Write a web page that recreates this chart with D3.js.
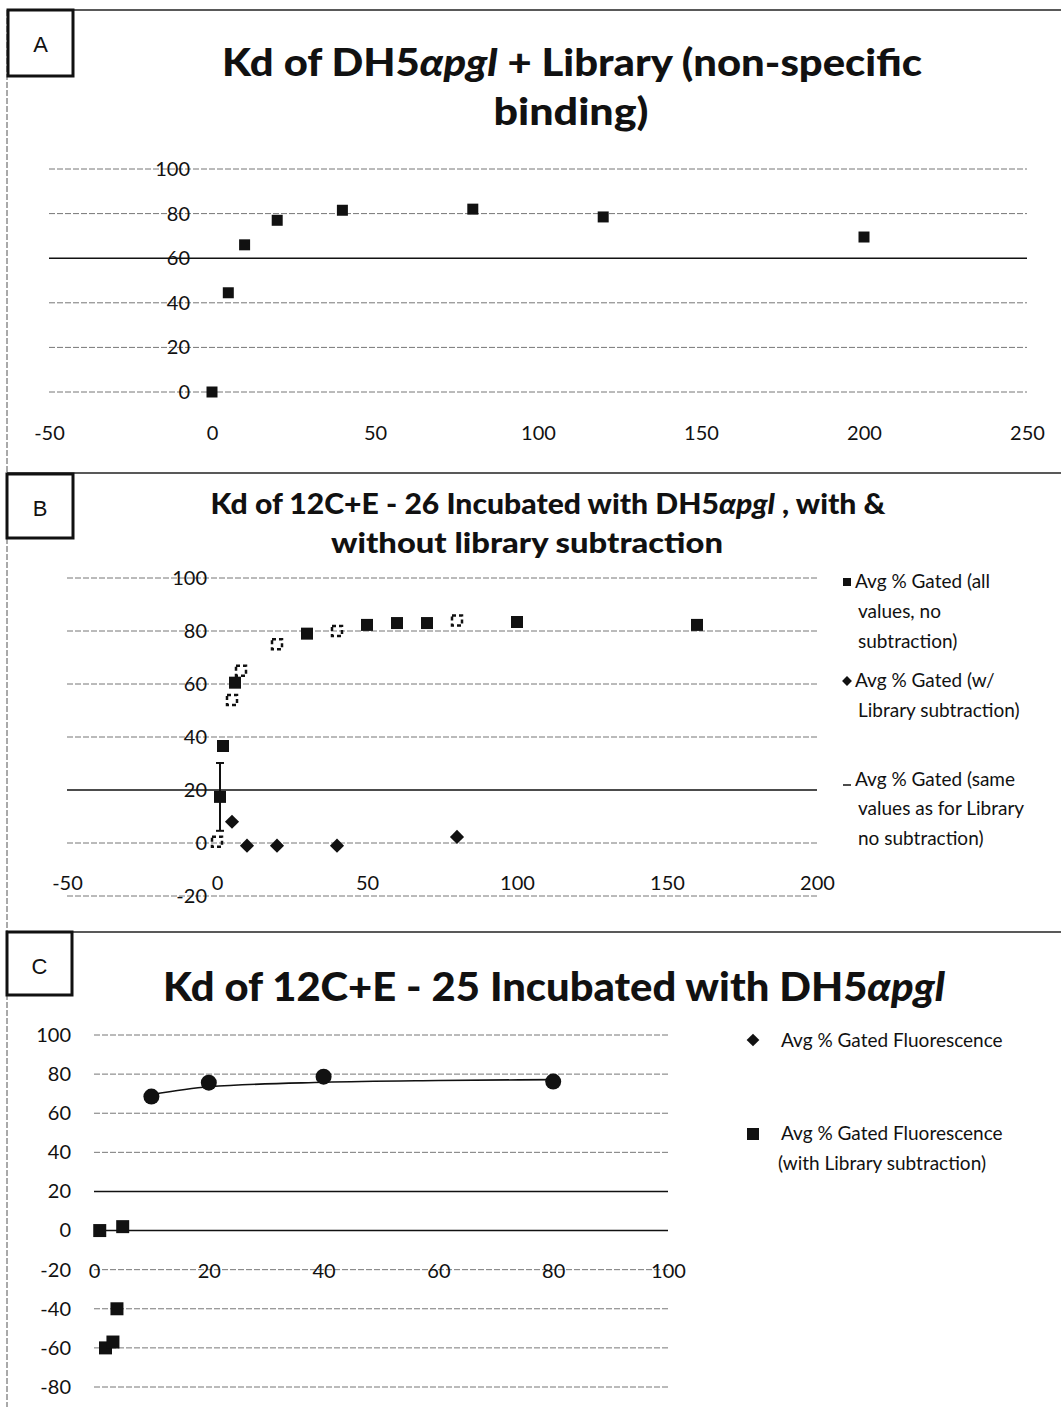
<!DOCTYPE html>
<html>
<head>
<meta charset="utf-8">
<script src="https://cdn.jsdelivr.net/npm/d3@7"></script>
<style>
  body { margin: 0; background: #fff; }
  svg text { font-family: Lato, "Open Sans", sans-serif; fill: #111; }
</style>
</head>
<body>
<script>
// panel A: DH5a pgl + library
const aConc = [0, 5, 10, 20, 40, 80, 120, 200];
const aGated = [0, 44.5, 66, 77, 81.5, 82, 78.5, 69.5];

// panel B: 12C+E - 26
const bAllConc = [1, 2, 6, 30, 50, 60, 70, 100, 160];
const bAllGated = [17.4, 36.6, 60.5, 79, 82.3, 83, 83, 83.4, 82.3];
const bAllErr = [12.8, 0, 0, 0, 0, 0, 0, 0, 0];
const bSubConc = [5, 10, 20, 40, 80];
const bSubGated = [8, -1, -1, -1, 2.3];
const bSameConc = [0, 5, 8, 20, 40, 80];
const bSameGated = [0.5, 54, 65, 75, 80, 84];

// panel C: 12C+E - 25
const cConc = [10, 20, 40, 80];
const cGated = [68.5, 75.6, 78.7, 76.2];
const cFitConc = [10, 20, 40, 60, 80];
const cFitGated = [69.5, 73.5, 75.8, 76.7, 77.2];
const cSubConc = [1, 5, 4, 2, 3.3];
const cSubGated = [0, 2, -40, -60, -57];

const aXTicks = [-50, 0, 50, 100, 150, 200, 250];
const aYTicks = [0, 20, 40, 60, 80, 100];
const bXTicks = [-50, 0, 50, 100, 150, 200];
const bYTicks = [-20, 0, 20, 40, 60, 80, 100];
const cXTicks = [0, 20, 40, 60, 80, 100];
const cYTicks = [-80, -60, -40, -20, 0, 20, 40, 60, 80, 100];

const W = 1061, H = 1407;
const svg = d3.select('body').append('svg').attr('width', W).attr('height', H);

// frame lines
svg.append('line').attr('x1', 8).attr('x2', W).attr('y1', 10).attr('y2', 10)
  .attr('stroke', '#222').attr('stroke-width', 1.5);
svg.append('line').attr('x1', 7).attr('x2', 7).attr('y1', 10).attr('y2', H)
  .attr('stroke', '#555').attr('stroke-dasharray', '6,2');
[473, 932].forEach((yy) => {
  svg.append('line').attr('x1', 7).attr('x2', W).attr('y1', yy).attr('y2', yy)
    .attr('stroke', '#222').attr('stroke-width', 1.5);
});

function letterBox(x, y, w, h, letter) {
  svg.append('rect').attr('x', x).attr('y', y).attr('width', w).attr('height', h)
    .attr('fill', '#fff').attr('stroke', '#111').attr('stroke-width', 3);
  svg.append('text').attr('x', x + w / 2).attr('y', y + 42).attr('text-anchor', 'middle')
    .style('font-family', '"Liberation Sans", Arial, sans-serif')
    .attr('font-size', 22).text(letter);
}
letterBox(8, 10, 65, 66, 'A');
letterBox(7, 474, 66, 64, 'B');
letterBox(7, 932, 65, 63, 'C');

// title line with italic "αpgl"
function titleLine(x, y, size, len, parts) {
  const t = svg.append('text').attr('x', x).attr('y', y).attr('text-anchor', 'middle')
    .attr('font-size', size).attr('font-weight', 900);
  parts.forEach((p) => {
    t.append('tspan').attr('font-style', p[1] ? 'italic' : null).text(p[0]);
  });
  if (len) t.attr('textLength', len).attr('lengthAdjust', 'spacingAndGlyphs');
}
titleLine(572, 76, 38, 700, [['Kd of DH5', false], ['αpgl', true], ['  + Library (non-specific', false]]);
titleLine(571, 125, 38, 155, [['binding)', false]]);
titleLine(548, 514, 29, 675, [['Kd of 12C+E - 26 Incubated with DH5', false], ['αpgl', true], [' , with &', false]]);
titleLine(527, 553, 29, 392, [['without library subtraction', false]]);
titleLine(554, 1001, 40, 782, [['Kd of 12C+E - 25 Incubated with DH5', false], ['αpgl', true]]);

function panel(o) {
  const x = d3.scaleLinear().domain(o.xDomain).range(o.xRange);
  const y = d3.scaleLinear().domain(o.yDomain).range(o.yRange);
  const g = svg.append('g');

  g.selectAll('line.grid').data(o.yTicks).join('line')
    .attr('class', 'grid')
    .attr('x1', x(o.xDomain[0])).attr('x2', x(o.xDomain[1]))
    .attr('y1', (d) => y(d)).attr('y2', (d) => y(d))
    .attr('stroke', (d) => (o.dark.includes(d) ? '#111' : '#777'))
    .attr('stroke-width', (d) => (o.dark.includes(d) ? 1.6 : 1))
    .attr('stroke-dasharray', (d) => (o.dark.includes(d) ? null : '6,2'));

  // plain hyphen minus, as in the original
  const fmt = (d) => String(d);

  g.append('g').attr('transform', `translate(${x(0)},0)`)
    .call(d3.axisLeft(y).tickValues(o.yTicks).tickFormat(fmt).tickSize(0).tickPadding(o.yPad))
    .call((a) => a.select('.domain').remove())
    .selectAll('text').attr('font-size', o.fs);

  g.append('g').attr('transform', `translate(0,${y(0)})`)
    .call(d3.axisBottom(x).tickValues(o.xTicks).tickFormat(fmt).tickSize(0).tickPadding(o.xPad))
    .call((a) => a.select('.domain').remove())
    .selectAll('text').attr('font-size', o.fs);

  return { x, y, g };
}

const sq = (s) => d3.symbol().type(d3.symbolSquare).size(s * s)();

// ---- panel A
const pA = panel({
  xDomain: [-50, 250], xRange: [49, 1027],
  yDomain: [0, 100], yRange: [392, 169],
  xTicks: aXTicks, yTicks: aYTicks, dark: [60],
  yPad: 22, xPad: 34, fs: 20,
});
pA.g.selectAll('path.a').data(aConc).join('path')
  .attr('d', sq(11)).attr('fill', '#111')
  .attr('transform', (d, i) => `translate(${pA.x(d)},${pA.y(aGated[i])})`);

// ---- panel B
const pB = panel({
  xDomain: [-50, 200], xRange: [67, 817],
  yDomain: [-20, 100], yRange: [896, 578],
  xTicks: bXTicks, yTicks: bYTicks, dark: [20],
  yPad: 10, xPad: 33, fs: 20,
});
// error bars
bAllConc.forEach((c, i) => {
  if (!bAllErr[i]) return;
  const xx = pB.x(c), y1 = pB.y(bAllGated[i] - bAllErr[i]), y2 = pB.y(bAllGated[i] + bAllErr[i]);
  pB.g.append('line').attr('x1', xx).attr('x2', xx).attr('y1', y1).attr('y2', y2)
    .attr('stroke', '#111').attr('stroke-width', 2);
  [y1, y2].forEach((yy) => pB.g.append('line').attr('x1', xx - 4).attr('x2', xx + 4)
    .attr('y1', yy).attr('y2', yy).attr('stroke', '#111').attr('stroke-width', 2));
});
pB.g.selectAll('path.same').data(bSameConc).join('path')
  .attr('d', sq(10)).attr('fill', 'none').attr('stroke', '#111').attr('stroke-width', 2.5)
  .attr('stroke-dasharray', '4,3')
  .attr('transform', (d, i) => `translate(${pB.x(d)},${pB.y(bSameGated[i])})`);
pB.g.selectAll('path.all').data(bAllConc).join('path')
  .attr('d', sq(12)).attr('fill', '#111')
  .attr('transform', (d, i) => `translate(${pB.x(d)},${pB.y(bAllGated[i])})`);
pB.g.selectAll('path.sub').data(bSubConc).join('path')
  .attr('d', sq(10)).attr('fill', '#111')
  .attr('transform', (d, i) => `translate(${pB.x(d)},${pB.y(bSubGated[i])}) rotate(45)`);

// legend B
const legB = svg.append('g').attr('font-size', 19);
const legBLines = [
  [588, 'Avg % Gated (all'], [618, 'values, no'], [648, 'subtraction)'],
  [687, 'Avg % Gated (w/'], [717, 'Library subtraction)'],
  [786, 'Avg % Gated (same'], [815, 'values as for Library'], [845, 'no subtraction)'],
];
legB.selectAll('text').data(legBLines).join('text')
  .attr('x', (d, i) => (i === 0 || i === 3 || i === 5 ? 855 : 858))
  .attr('y', (d) => d[0]).text((d) => d[1]);
legB.append('path').attr('d', sq(8)).attr('fill', '#111').attr('transform', 'translate(847,582)');
legB.append('path').attr('d', sq(7)).attr('fill', '#111').attr('transform', 'translate(847,681) rotate(45)');
legB.append('line').attr('x1', 843).attr('x2', 851).attr('y1', 785).attr('y2', 785)
  .attr('stroke', '#111').attr('stroke-width', 1.5);

// ---- panel C
const pC = panel({
  xDomain: [0, 100], xRange: [94, 668],
  yDomain: [-80, 100], yRange: [1387, 1035],
  xTicks: cXTicks, yTicks: cYTicks, dark: [20, 0],
  yPad: 23, xPad: 33, fs: 20,
});
pC.g.append('path')
  .datum(cFitConc.map((c, i) => [c, cFitGated[i]]))
  .attr('fill', 'none').attr('stroke', '#111').attr('stroke-width', 1.6)
  .attr('d', d3.line().x((d) => pC.x(d[0])).y((d) => pC.y(d[1])).curve(d3.curveMonotoneX));
pC.g.selectAll('circle.c').data(cConc).join('circle')
  .attr('r', 8).attr('fill', '#111')
  .attr('cx', (d) => pC.x(d)).attr('cy', (d, i) => pC.y(cGated[i]));
pC.g.selectAll('path.csub').data(cSubConc).join('path')
  .attr('d', sq(13)).attr('fill', '#111')
  .attr('transform', (d, i) => `translate(${pC.x(d)},${pC.y(cSubGated[i])})`);

// legend C
const legC = svg.append('g').attr('font-size', 19);
legC.append('path').attr('d', sq(9)).attr('fill', '#111').attr('transform', 'translate(753,1040) rotate(45)');
legC.append('path').attr('d', sq(12)).attr('fill', '#111').attr('transform', 'translate(753,1134)');
legC.selectAll('text').data([[1047, 'Avg % Gated Fluorescence'], [1140, 'Avg % Gated Fluorescence'], [1170, '(with Library subtraction)']])
  .join('text').attr('x', (d, i) => (i === 2 ? 778 : 781)).attr('y', (d) => d[0]).text((d) => d[1]);
</script>
</body>
</html>
